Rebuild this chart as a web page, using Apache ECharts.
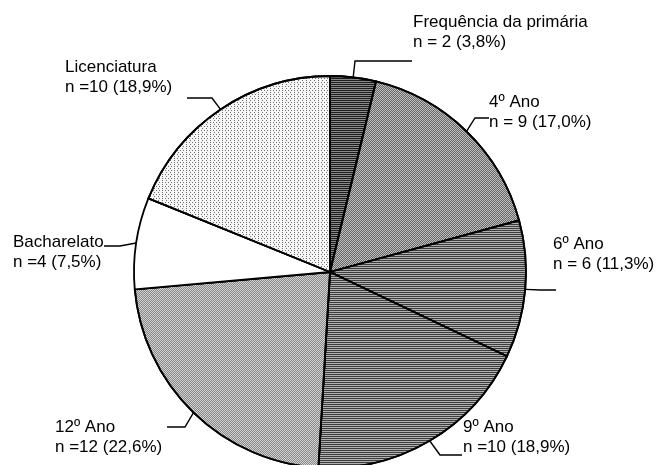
<!DOCTYPE html>
<html>
<head>
<meta charset="utf-8">
<script src="https://cdn.jsdelivr.net/npm/echarts@6/dist/echarts.min.js"></script>
<style>
html,body{margin:0;padding:0;background:#fff;}
#c{width:660px;height:465px;}
</style>
</head>
<body>
<div id="c"></div>
<script>
// ---- data ----
const categories = ['Frequência da primária', '4º Ano', '6º Ano', '9º Ano', '12º Ano', 'Bacharelato', 'Licenciatura'];
const counts = [2, 9, 6, 10, 12, 4, 10];
const nPrefixes = ['n = ', 'n = ', 'n = ', 'n =', 'n =', 'n =', 'n ='];

// ---- styles ----
const CX = 330, CY = 272, R = 196;
const fills = [
  { color: '#8a8a8a', decal: { symbol: 'rect', symbolSize: 1, color: 'rgba(0,0,0,0.8)', dashArrayX: [1, 0], dashArrayY: [1, 1], rotation: 0 } },
  { color: '#bdbdbd', decal: { symbol: 'rect', symbolSize: 1, color: 'rgba(0,0,0,0.45)', dashArrayX: [[1, 1], [0, 1, 1, 0]], dashArrayY: [1, 0], rotation: 0 } },
  { color: '#b0b0b0', decal: { symbol: 'rect', symbolSize: 1, color: 'rgba(0,0,0,0.65)', dashArrayX: [1, 0], dashArrayY: [1, 1], rotation: 0 } },
  { color: '#b0b0b0', decal: { symbol: 'rect', symbolSize: 1, color: 'rgba(0,0,0,0.65)', dashArrayX: [1, 0], dashArrayY: [1, 1], rotation: 0 } },
  { color: '#d2d2d2', decal: { symbol: 'rect', symbolSize: 1, color: 'rgba(0,0,0,0.35)', dashArrayX: [[1, 1], [0, 1, 1, 0]], dashArrayY: [1, 0], rotation: 0 } },
  { color: '#ffffff', decal: null },
  { color: '#f6f6f6', decal: { symbol: 'rect', symbolSize: 1, color: 'rgba(0,0,0,0.55)', dashArrayX: [[1, 2], [0, 1.5, 1, 0.5]], dashArrayY: [1, 1], rotation: 0 } }
];
// label block top-left and leader elbow/end (x, y)
const labelPos = [
  { x: 413, y: 12, elbow: [355, 61], end: [412, 61] },
  { x: 489, y: 92, elbow: [475, 118], end: [489, 118] },
  { x: 553, y: 234, elbow: [540, 290], end: [556, 290] },
  { x: 463, y: 417, elbow: [440, 455], end: [462, 455] },
  { x: 55, y: 417, elbow: [185, 427], end: [167, 427] },
  { x: 13, y: 232, elbow: [120, 246], end: [104, 246] },
  { x: 65, y: 57, elbow: [212, 98], end: [187, 98] }
];

const total = counts.reduce((a, b) => a + b, 0);
function pctText(v) { return (v / total * 100).toFixed(1).replace('.', ',') + '%'; }

// mid-angle anchor of each slice on the rim (start at 12 o'clock, clockwise)
function rimPoint(i) {
  let before = 0;
  for (let k = 0; k < i; k++) before += counts[k];
  const mid = (before + counts[i] / 2) / total * Math.PI * 2;
  return [CX + R * Math.sin(mid), CY - R * Math.cos(mid)];
}

const data = categories.map((name, i) => ({
  name: name,
  value: counts[i],
  itemStyle: { color: fills[i].color, decal: fills[i].decal || undefined },
  label: { formatter: name + '\n' + nPrefixes[i] + counts[i] + ' (' + pctText(counts[i]) + ')' }
}));

const chart = echarts.init(document.getElementById('c'), null, { renderer: 'canvas' });
chart.setOption({
  backgroundColor: '#ffffff',
  animation: false,
  series: [{
    type: 'pie',
    center: [CX, CY],
    radius: R,
    startAngle: 90,
    clockwise: true,
    avoidLabelOverlap: false,
    itemStyle: { borderColor: '#000', borderWidth: 1.8 },
    emphasis: { disabled: true },
    label: {
      show: true,
      position: 'outside',
      color: '#000',
      fontFamily: '"Liberation Sans", Arial, sans-serif',
      fontSize: 17,
      lineHeight: 20,
      align: 'left'
    },
    labelLine: { show: true, lineStyle: { color: '#000', width: 1.4 }, length: 10, length2: 10 },
    labelLayout: function (params) {
      const i = params.dataIndex;
      const p = labelPos[i];
      return {
        x: p.x, y: p.y, align: 'left', verticalAlign: 'top',
        labelLinePoints: [rimPoint(i), p.elbow, p.end]
      };
    },
    data: data
  }]
});
</script>
</body>
</html>
